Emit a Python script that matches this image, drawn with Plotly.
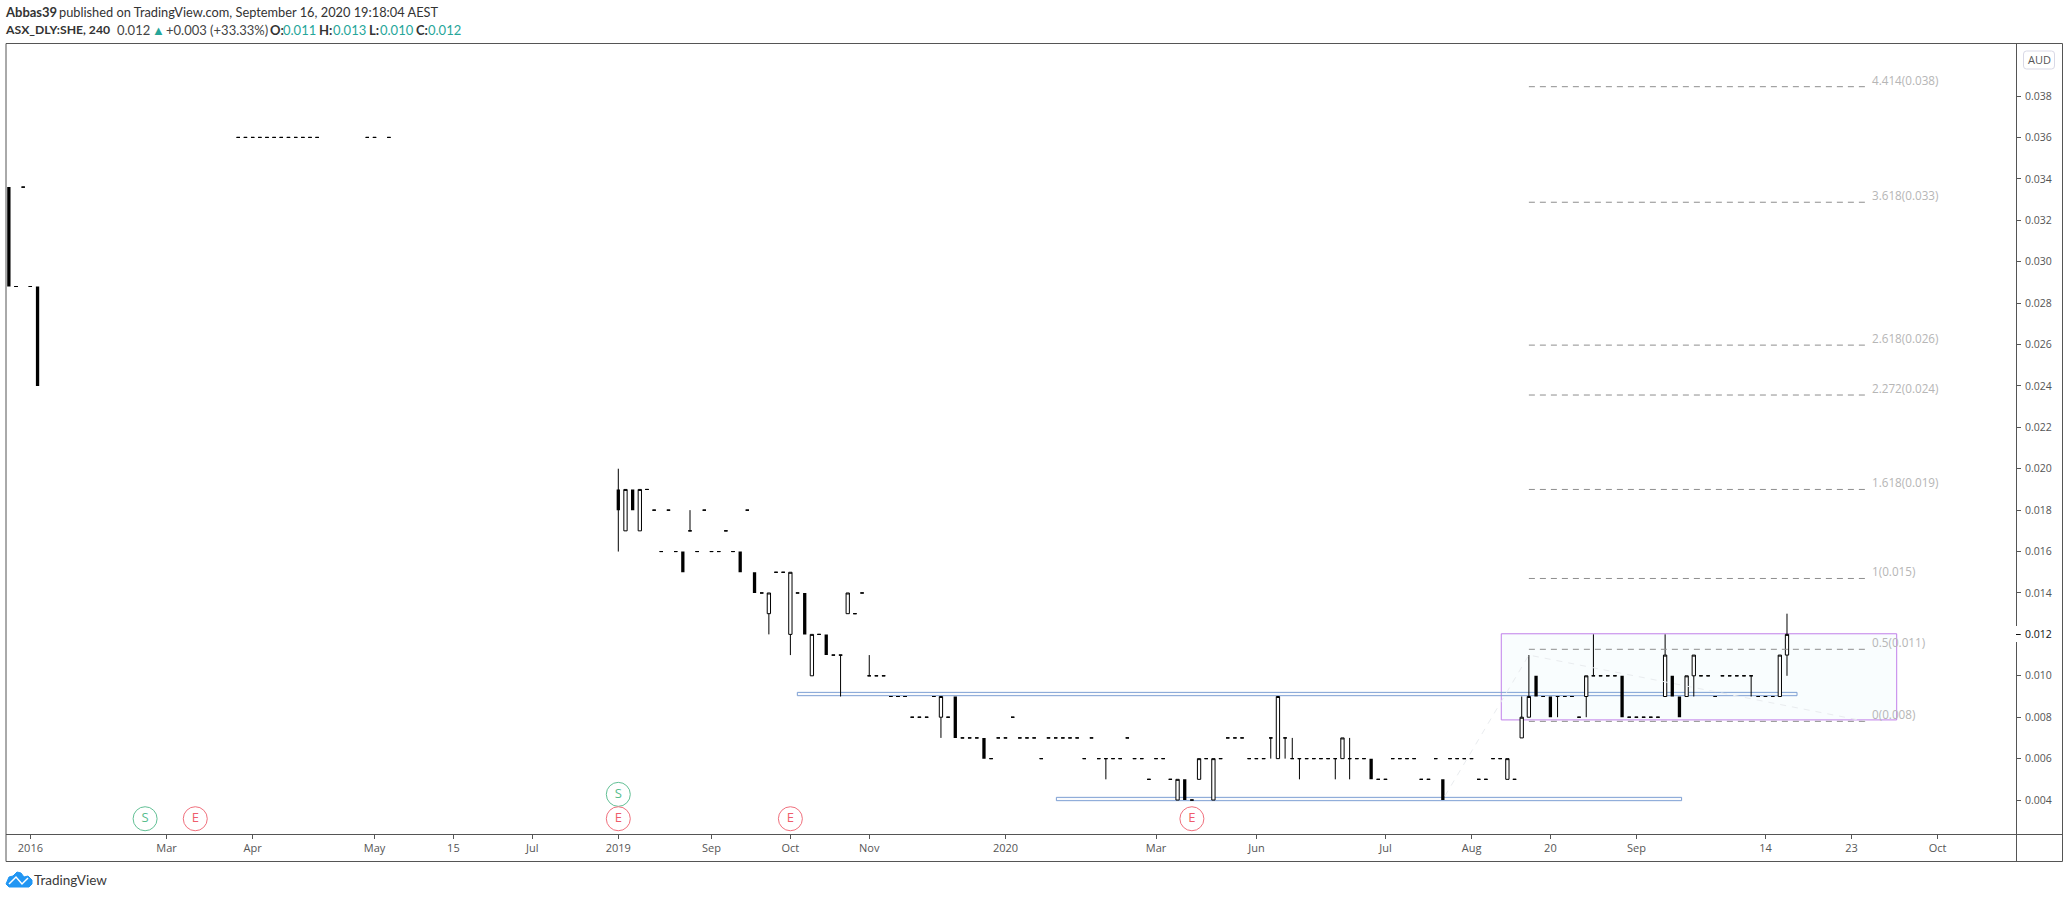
import numpy as np
import plotly.graph_objects as go

W, H = 2069, 898
L, R, T, B = 6, 2016, 43, 834

# Bars: position along the bar axis; prices in thousandths of an AUD
bar_x = [-85, -84, -83, -82, -81,
         -53, -52, -51, -50, -49, -48, -47, -46, -45, -44, -43, -42,
         -35, -34, -32] + list(range(164))
bar_open = [33.6, 28.8, 33.6, 28.8, 28.8,
            36, 36, 36, 36, 36, 36, 36, 36, 36, 36, 36, 36,
            36, 36, 36,
            19, 17, 19, 17, 19, 18, 16, 18, 16, 16,
            17, 16, 18, 16, 16, 17, 16, 16, 18, 15,
            14, 13, 15, 15, 12, 14, 14, 10, 12, 12,
            11, 11, 13, 13, 14, 10, 10, 10, 9, 9,
            9, 8, 8, 8, 9, 8, 8, 9, 7, 7,
            7, 7, 6, 7, 7, 8, 7, 7, 7, 6,
            7, 7, 7, 7, 7, 6, 7, 6, 6, 6,
            6, 7, 6, 6, 5, 6, 6, 5, 4, 5,
            4, 5, 6, 4, 6, 7, 7, 7, 6, 6,
            6, 7, 6, 7, 6, 6, 6, 6, 6, 6,
            6, 6, 6, 6, 6, 6, 5, 5, 6, 6,
            6, 6, 5, 5, 6, 5, 6, 6, 6, 6,
            5, 5, 6, 6, 5, 5, 7, 8, 10, 9,
            9, 9, 9, 9, 8, 9, 10, 10, 10, 10,
            10, 8, 8, 8, 8, 8, 9, 10, 9, 9,
            10, 10, 10, 9, 10, 10, 10, 10, 10, 9,
            9, 9, 9, 11]
bar_high = [33.6, 28.8, 33.6, 28.8, 28.8,
            36, 36, 36, 36, 36, 36, 36, 36, 36, 36, 36, 36,
            36, 36, 36,
            20, 19, 19, 19, 19, 18, 16, 18, 16, 16,
            18, 16, 18, 16, 16, 17, 16, 16, 18, 15,
            14, 14, 15, 15, 15, 14, 14, 12, 12, 12,
            11, 11, 14, 13, 14, 11, 10, 10, 9, 9,
            9, 8, 8, 8, 9, 9, 8, 9, 7, 7,
            7, 7, 6, 7, 7, 8, 7, 7, 7, 6,
            7, 7, 7, 7, 7, 6, 7, 6, 6, 6,
            6, 7, 6, 6, 5, 6, 6, 5, 5, 5,
            4, 6, 6, 6, 6, 7, 7, 7, 6, 6,
            6, 7, 9, 7, 7, 6, 6, 6, 6, 6,
            6, 7, 7, 6, 6, 6, 5, 5, 6, 6,
            6, 6, 5, 5, 6, 5, 6, 6, 6, 6,
            5, 5, 6, 6, 6, 5, 9, 11, 10, 9,
            9, 9, 9, 9, 8, 10, 12, 10, 10, 10,
            10, 8, 8, 8, 8, 8, 12, 10, 9, 10,
            11, 10, 10, 9, 10, 10, 10, 10, 10, 9,
            9, 9, 11, 13]
bar_low = [28.8, 28.8, 33.6, 28.8, 24,
           36, 36, 36, 36, 36, 36, 36, 36, 36, 36, 36, 36,
           36, 36, 36,
           16, 17, 18, 17, 19, 18, 16, 18, 16, 15,
           17, 16, 18, 16, 16, 17, 16, 15, 18, 14,
           14, 12, 15, 15, 11, 14, 12, 10, 12, 11,
           11, 9, 13, 13, 14, 10, 10, 10, 9, 9,
           9, 8, 8, 8, 9, 7, 8, 7, 7, 7,
           7, 6, 6, 7, 7, 8, 7, 7, 7, 6,
           7, 7, 7, 7, 7, 6, 7, 6, 5, 6,
           6, 7, 6, 6, 5, 6, 6, 5, 4, 4,
           4, 5, 6, 4, 6, 7, 7, 7, 6, 6,
           6, 6, 6, 6, 6, 5, 6, 6, 6, 6,
           5, 6, 5, 6, 6, 5, 5, 5, 6, 6,
           6, 6, 5, 5, 6, 4, 6, 6, 6, 6,
           5, 5, 6, 6, 5, 5, 7, 8, 9, 9,
           8, 8, 9, 9, 8, 8, 10, 10, 10, 10,
           8, 8, 8, 8, 8, 8, 9, 9, 8, 9,
           9, 10, 10, 9, 10, 10, 10, 10, 9, 9,
           9, 9, 9, 10]
bar_close = [28.8, 28.8, 33.6, 28.8, 24,
             36, 36, 36, 36, 36, 36, 36, 36, 36, 36, 36, 36,
             36, 36, 36,
             18, 19, 18, 19, 19, 18, 16, 18, 16, 15,
             17, 16, 18, 16, 16, 17, 16, 15, 18, 14,
             14, 14, 15, 15, 15, 14, 12, 12, 12, 11,
             11, 11, 14, 13, 14, 10, 10, 10, 9, 9,
             9, 8, 8, 8, 9, 9, 8, 7, 7, 7,
             7, 6, 6, 7, 7, 8, 7, 7, 7, 6,
             7, 7, 7, 7, 7, 6, 7, 6, 6, 6,
             6, 7, 6, 6, 5, 6, 6, 5, 5, 4,
             4, 6, 6, 6, 6, 7, 7, 7, 6, 6,
             6, 7, 9, 7, 6, 6, 6, 6, 6, 6,
             6, 7, 6, 6, 6, 5, 5, 5, 6, 6,
             6, 6, 5, 5, 6, 4, 6, 6, 6, 6,
             5, 5, 6, 6, 6, 5, 8, 9, 9, 9,
             8, 9, 9, 9, 8, 10, 10, 10, 10, 10,
             8, 8, 8, 8, 8, 8, 11, 9, 8, 10,
             11, 10, 10, 9, 10, 10, 10, 10, 10, 9,
             9, 9, 11, 12]

price_ticks = [0.004, 0.006, 0.008, 0.010, 0.012, 0.014, 0.016, 0.018, 0.020, 0.022,
               0.024, 0.026, 0.028, 0.030, 0.032, 0.034, 0.036, 0.038]
time_tick_pos = [-82, -63, -51, -34, -23, -12, 0, 13, 24, 35, 54, 75, 89, 107, 119, 130, 142, 160, 172, 184]
time_tick_labels = ["2016", "Mar", "Apr", "May", "15", "Jul", "2019", "Sep", "Oct", "Nov",
                    "2020", "Mar", "Jun", "Jul", "Aug", "20", "Sep", "14", "23", "Oct"]

fib_prices = [0.0078, 0.01128, 0.0147, 0.0190, 0.02356, 0.02597, 0.03287, 0.03845]
fib_labels = ["0(0.008)", "0.5(0.011)", "1(0.015)", "1.618(0.019)", "2.272(0.024)",
              "2.618(0.026)", "3.618(0.033)", "4.414(0.038)"]
fib_start, fib_end, fib_label_x = 127, 174, 174.7

swing_x = [115.3, 127, 174]
swing_y = [0.0042, 0.0110, 0.0078]

event_s_x = [-66, 0]
event_s_y = [0.003097, 0.004275]
event_e_x = [-59, 0, 24, 80]
event_e_y = [0.003097, 0.003097, 0.003097, 0.003097]

zone_purple = (123.15, 178.3, 0.00787, 0.01203)
zone_blue_top = (24.97, 164.4, 0.00904, 0.0092)
zone_blue_low = (61.1, 148.3, 0.00397, 0.00413)

# Header pieces: text, horizontal place on the page, colour, bold, size
header_title = [("Abbas39", 6, "#333333", True, 13),
                ("published on TradingView.com, September 16, 2020 19:18:04 AEST", 60, "#333333", False, 12.8)]
header_quote = [("ASX_DLY:SHE, 240", 6, "#333333", True, 12.2),
                ("0.012", 118, "#444444", False, 13),
                ("▲", 153, "#26a69a", False, 13),
                ("+0.003 (+33.33%)", 167, "#444444", False, 13),
                ("O:", 270.5, "#333333", True, 13),
                ("0.011", 284, "#26a69a", False, 13),
                ("H:", 320, "#333333", True, 13),
                ("0.013", 334, "#26a69a", False, 13),
                ("L:", 370, "#333333", True, 13),
                ("0.010", 381, "#26a69a", False, 13),
                ("C:", 417, "#333333", True, 13),
                ("0.012", 429, "#26a69a", False, 13)]

AXIS = "#555555"
TXT = "#555555"
FONT = "Open Sans"
HEAD = "Lato, Open Sans, sans-serif"


def px(x):
    return (x - L) / (R - L)


def py(y):
    return (B - y) / (B - T)


x = np.array(bar_x, float)
o = np.array(bar_open) / 1000
h = np.array(bar_high) / 1000
l = np.array(bar_low) / 1000
c = np.array(bar_close) / 1000
black = c < o

fig = go.Figure()

light = dict(line=dict(color="#000000", width=1), fillcolor="#ffffff")
fig.add_trace(go.Candlestick(x=x[~black], open=o[~black], high=h[~black], low=l[~black], close=c[~black],
                             increasing=light, decreasing=light, name="Bars", hoverinfo="skip"))
dark = dict(line=dict(color="#000000", width=0), fillcolor="#000000")
fig.add_trace(go.Candlestick(x=x[black], open=o[black], high=h[black], low=l[black], close=c[black],
                             increasing=dark, decreasing=dark, name="Falling bars", hoverinfo="skip"))

wx, wy = [], []
for xi, oi, hi, li, ci, bi in zip(x, o, h, l, c, black):
    if bi and (hi > oi or li < ci):
        wx += [xi, xi, None]
        wy += [hi, li, None]
fig.add_trace(go.Scatter(x=wx, y=wy, mode="lines", line=dict(color="#000", width=1), hoverinfo="skip"))

fig.add_trace(go.Scatter(x=swing_x, y=swing_y, mode="lines",
                         line=dict(color="#e9ecef", width=1, dash="6px,6px"), hoverinfo="skip"))

for p in fib_prices:
    fig.add_trace(go.Scatter(x=[fib_start, fib_end], y=[p, p], mode="lines",
                             line=dict(color="#8e8e8e", width=1, dash="6px,5px"), hoverinfo="skip"))

fig.add_trace(go.Scatter(x=event_s_x, y=event_s_y, mode="markers+text", text=["S"] * len(event_s_x),
                         textposition="middle center", textfont=dict(color="#56bd8d", size=13, family=FONT),
                         marker=dict(symbol="circle", size=24, color="rgba(255,255,255,0.9)",
                                     line=dict(color="#62c095", width=1)), hoverinfo="skip"))
fig.add_trace(go.Scatter(x=event_e_x, y=event_e_y, mode="markers+text", text=["E"] * len(event_e_x),
                         textposition="middle center", textfont=dict(color="#ef5d6c", size=13, family=FONT),
                         marker=dict(symbol="circle", size=24, color="rgba(255,255,255,0.9)",
                                     line=dict(color="#f0707d", width=1)), hoverinfo="skip"))

shapes = []


def zone(z, line, fill):
    shapes.append(dict(type="rect", xref="x", yref="y", x0=z[0], x1=z[1], y0=z[2], y1=z[3],
                       line=dict(color=line, width=1), fillcolor=fill, layer="below"))


zone(zone_purple, "#c07fea", "#f9fdfe")
zone(zone_blue_top, "#7d9fd3", "rgba(125,159,211,0.04)")
zone(zone_blue_low, "#7d9fd3", "rgba(125,159,211,0.04)")


def frame(x0, y0, x1, y1, color=AXIS, width=1):
    shapes.append(dict(type="line", xref="paper", yref="paper", x0=px(x0), x1=px(x1), y0=py(y0), y1=py(y1),
                       line=dict(color=color, width=width), layer="above"))


frame(L, 43.5, 2062.5, 43.5)
frame(L, 43.5, L, 861.5)
frame(2016.5, 43.5, 2016.5, 861.5)
frame(2062.5, 43.5, 2062.5, 861.5)
frame(L, 861.5, 2062.5, 861.5)
frame(L, 834.5, 2062.5, 834.5)
frame(2016.5, 626, 2016.5, 642, color="#ffffff", width=2)
frame(2016, 634.5, 2020, 634.5, color="#111111")


def rounded(x0, y0, x1, y1, r):
    return (f"M {px(x0 + r)} {py(y0)} L {px(x1 - r)} {py(y0)} Q {px(x1)} {py(y0)} {px(x1)} {py(y0 + r)} "
            f"L {px(x1)} {py(y1 - r)} Q {px(x1)} {py(y1)} {px(x1 - r)} {py(y1)} "
            f"L {px(x0 + r)} {py(y1)} Q {px(x0)} {py(y1)} {px(x0)} {py(y1 - r)} "
            f"L {px(x0)} {py(y0 + r)} Q {px(x0)} {py(y0)} {px(x0 + r)} {py(y0)} Z")


shapes.append(dict(type="path", xref="paper", yref="paper", path=rounded(2023.5, 51, 2054.5, 69, 3),
                   line=dict(color="#d9d9e6", width=1), fillcolor="#ffffff", layer="above"))

cloud = [(6, 884), (9, 877), (13, 876), (17, 872), (21, 873), (24, 877), (28, 876), (32, 880), (32, 884), (29, 887), (9, 887)]
shapes.append(dict(type="path", xref="paper", yref="paper",
                   path="M " + " L ".join(f"{px(a)} {py(b)}" for a, b in cloud) + " Z",
                   line=dict(color="#2196f3", width=1), fillcolor="#2196f3", layer="above"))
zig = [(9, 884), (16, 877), (22, 884), (28, 878)]
shapes.append(dict(type="path", xref="paper", yref="paper",
                   path="M " + " L ".join(f"{px(a)} {py(b)}" for a, b in zig),
                   line=dict(color="#ffffff", width=1.5), layer="above"))

annotations = []


def label(xp, yp, text, size, color=TXT, family=FONT, xanchor="left"):
    annotations.append(dict(xref="paper", yref="paper", x=px(xp), y=py(yp), text=text, showarrow=False,
                            xanchor=xanchor, yanchor="middle", borderpad=0, borderwidth=0,
                            font=dict(size=size, color=color, family=family)))


for yp, pieces in ((12.5, header_title), (29.5, header_quote)):
    for text, xp, color, bold, size in pieces:
        label(xp - 1, yp, f"<b>{text}</b>" if bold else text, size, color, HEAD)
label(34, 880, "TradingView", 13.5, "#3a3a3a", HEAD)
label(2039, 60, "AUD", 11, "#555555", FONT, "center")

for p, text in zip(fib_prices, fib_labels):
    annotations.append(dict(xref="x", yref="y", x=fib_label_x, y=p, text=text, showarrow=False,
                            xanchor="left", yanchor="middle", yshift=7, borderpad=0,
                            font=dict(size=11.7, color="#b6b6b6", family=FONT)))

fig.update_layout(
    width=W, height=H, autosize=False,
    margin=dict(l=L, r=W - R, t=T, b=H - B, pad=0),
    paper_bgcolor="#ffffff", plot_bgcolor="#ffffff", showlegend=False,
    boxmode="overlay", boxgap=0.54, boxgroupgap=0,
    shapes=shapes, annotations=annotations,
    xaxis=dict(range=[-85.4, 194.94], rangeslider=dict(visible=False), showgrid=False, zeroline=False,
               tickmode="array", tickvals=time_tick_pos, ticktext=time_tick_labels,
               ticks="outside", ticklen=4, tickcolor=AXIS, showline=False,
               tickfont=dict(size=11, color=TXT, family=FONT)),
    yaxis=dict(range=[0.00236, 0.04056], side="right", showgrid=False, zeroline=False,
               tickmode="array", tickvals=price_ticks,
               ticktext=['<span style="color:#111111">%.3f</span>' % v if abs(v - 0.012) < 1e-9 else "%.3f" % v
                         for v in price_ticks],
               ticks="outside", ticklen=4, tickcolor=AXIS, showline=False, ticklabelstandoff=2,
               tickfont=dict(size=10.5, color=TXT, family=FONT)),
)

fig.write_html("out.html", config=dict(displayModeBar=False),
               post_script="document.body.style.margin='0';document.body.style.overflow='hidden';")
